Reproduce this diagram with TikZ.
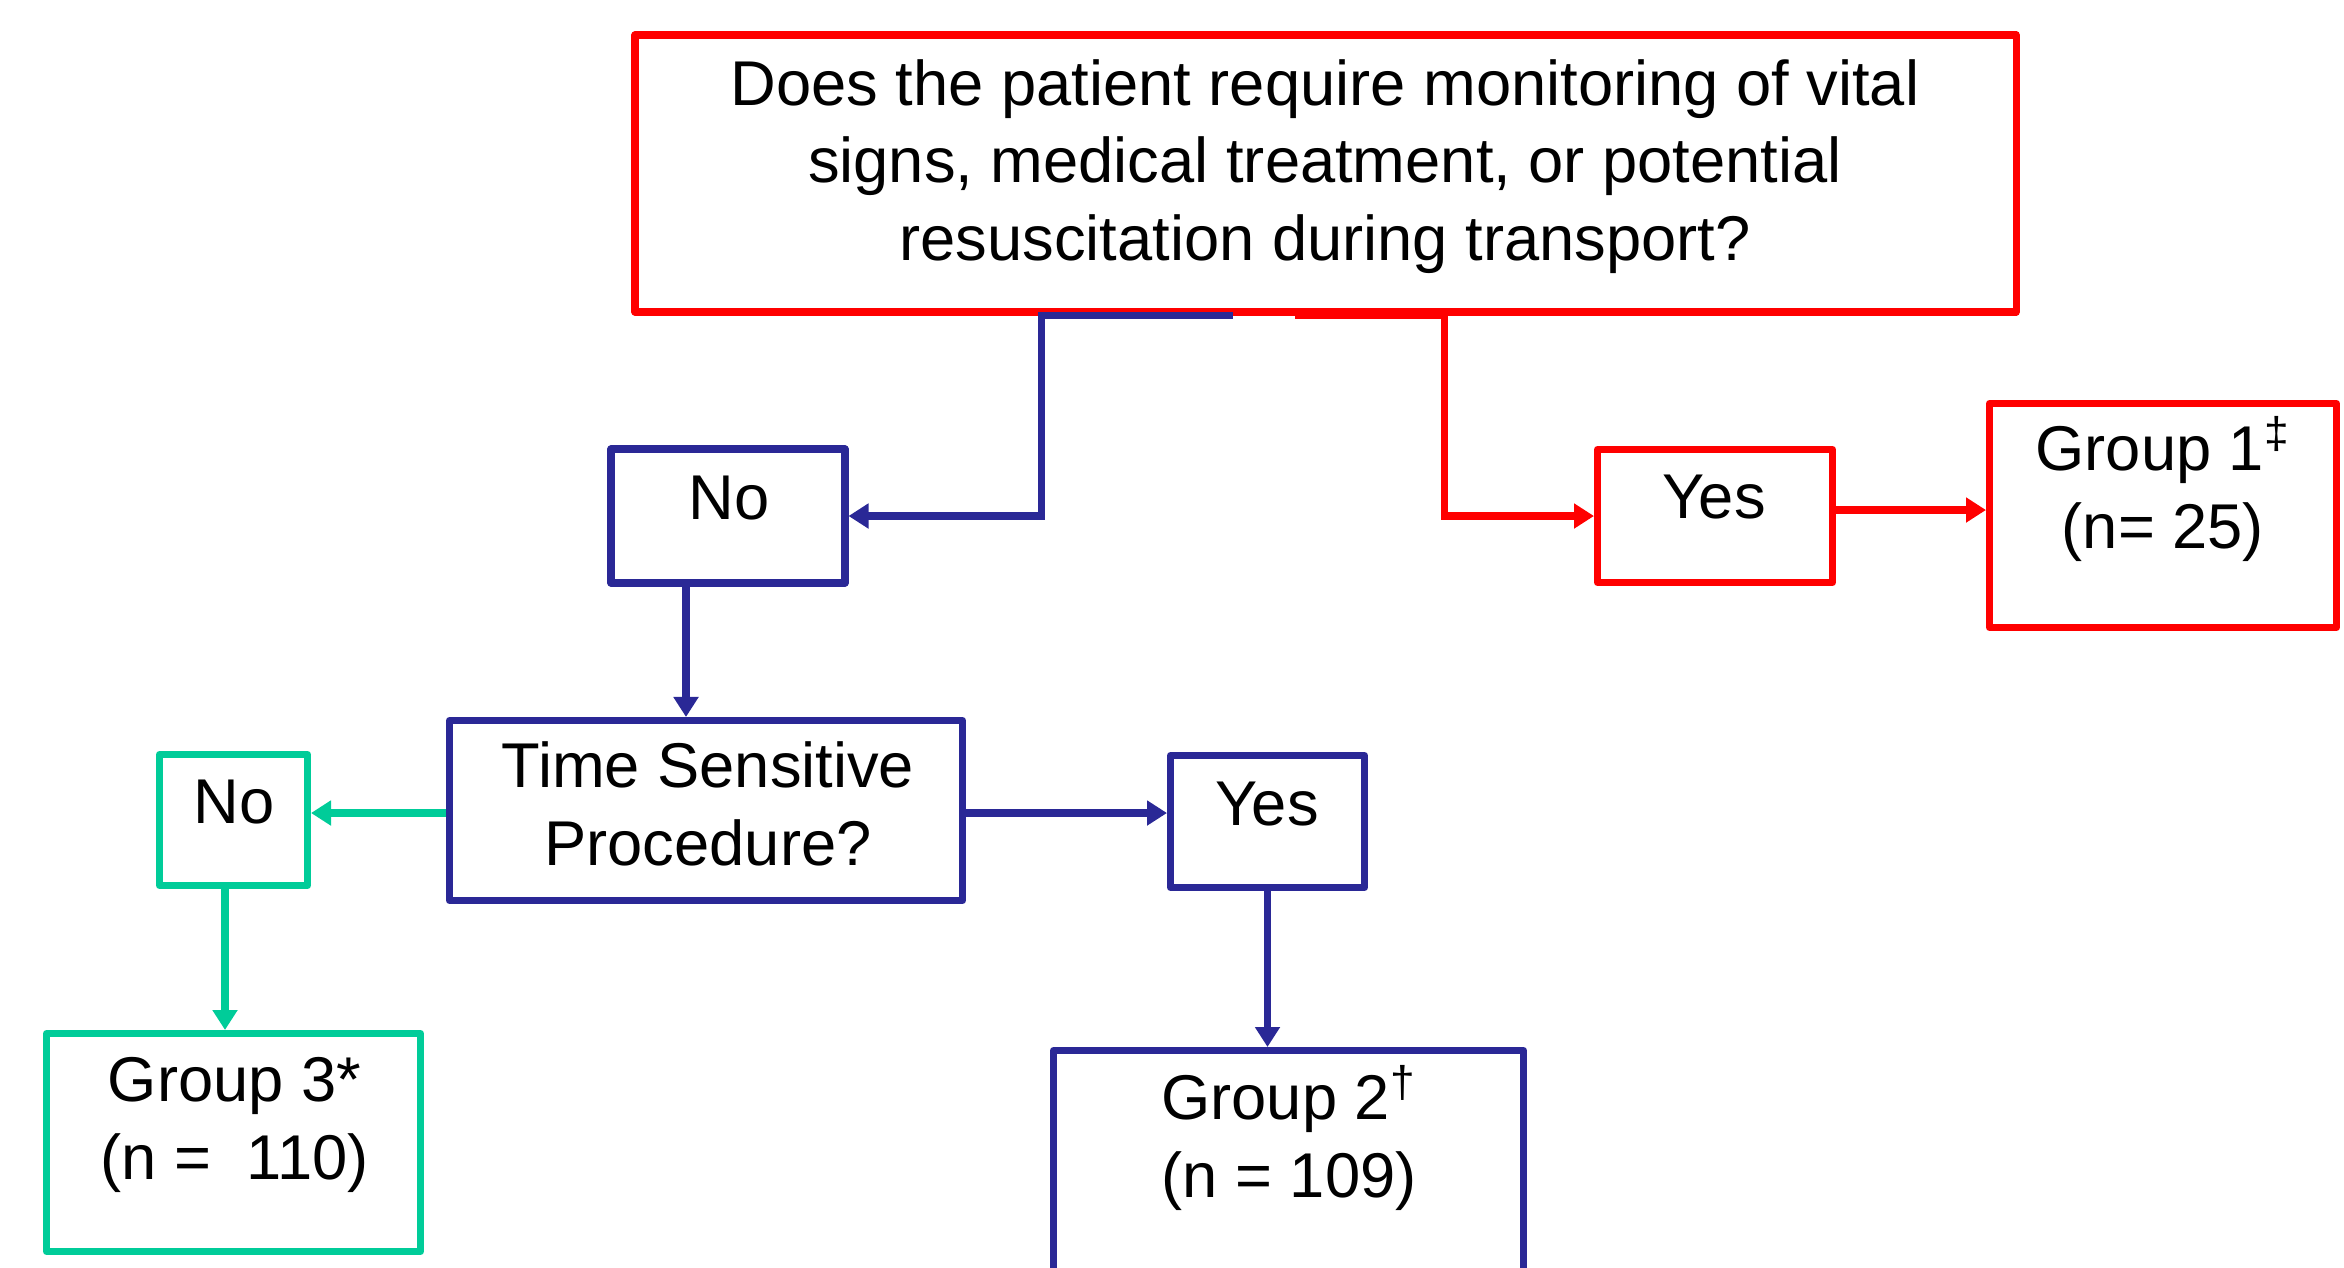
\documentclass[tikz,border=0pt]{standalone}
\usepackage{fontspec}
\setmainfont{Liberation Sans}
\usetikzlibrary{%
	arrows.meta,%
	calc%
}
\definecolor{qred}{HTML}{FF0000}
\definecolor{qblue}{HTML}{2A2896}
\definecolor{qgreen}{HTML}{00CC99}

\begin{document}
\begin{tikzpicture}[
		box/.style={draw=#1, line width=2pt, line join=round, rectangle, inner sep=0pt},
		txt/.style={align=center, inner sep=0pt, font=\fontsize{18pt}{22pt}\selectfont},
		conn/.style={draw=#1, line width=2pt, -{Triangle[length=2mm,width=2.4mm]}}
	]
		\useasboundingbox (0,0) rectangle (23.44,-12.67);
		
		% Boxes
		\node[box=qred, minimum width=13.81cm, minimum height=2.77cm] (Q) at (13.255,-1.735) {};
		\node[box=qblue, minimum width=2.34cm, minimum height=1.34cm] (no1) at (7.28,-5.16) {};
		\node[box=qred, minimum width=2.35cm, minimum height=1.33cm] (yes1) at (17.15,-5.16) {};
		\node[box=qred, minimum width=3.47cm, minimum height=2.24cm] (g1) at (21.63,-5.155) {};
		\node[box=qblue, minimum width=5.13cm, minimum height=1.80cm] (tsp) at (7.06,-8.105) {};
		\node[box=qgreen, minimum width=1.48cm, minimum height=1.31cm] (no2) at (2.335,-8.20) {};
		\node[box=qblue, minimum width=1.94cm, minimum height=1.32cm] (yes2) at (12.675,-8.215) {};
		\node[box=qgreen, minimum width=3.74cm, minimum height=2.18cm] (g3) at (2.335,-11.425) {};
		\node[box=qblue, minimum width=4.70cm, minimum height=2.40cm] (g2) at (12.885,-11.705) {};
		
		% Texts (base = last line)
		\node[txt, anchor=base] (Qt) at (13.25,-2.60) {Does the patient require monitoring of vital\\signs, medical treatment, or potential\\resuscitation during transport?};
		\node[txt, anchor=base] (no1t) at (7.29,-5.19) {No};
		\node[txt, anchor=base] (yes1t) at (17.14,-5.18) {Yes};
		\node[txt, anchor=base] (g1t) at (21.63,-5.48) {Group 1\textsuperscript{‡}\\(n= 25)};
		\node[txt, anchor=base] (tspt) at (7.08,-8.65) {Time Sensitive\\Procedure?};
		\node[txt, anchor=base] (no2t) at (2.34,-8.23) {No};
		\node[txt, anchor=base] (yes2t) at (12.67,-8.25) {Yes};
		\node[txt, anchor=base] (g3t) at (2.345,-11.79) {Group 3*\\(n =\ \ 110)};
		\node[txt, anchor=base] (g2t) at (12.89,-11.97) {Group 2\textsuperscript{†}\\(n = 109)};
		
		% Arrows
		\draw[conn=qblue] ([xshift=-9.25mm]Q.south) -- ([xshift=-28.45mm]Q.south) |- (no1);
		\draw[conn=qred] ([xshift=-3.05mm]Q.south) -- ([xshift=11.85mm]Q.south) |- (yes1);
		\draw[conn=qred] ([yshift=0.6mm]yes1.east) -- ([yshift=0.6mm]yes1.east -| g1.west);
		\draw[conn=qblue] ([xshift=-4.2mm]no1.south) -- ([xshift=-4.2mm]no1.south |- tsp.north);
		\draw[conn=qgreen] ([yshift=-0.25mm]tsp.west) -- ([yshift=-0.25mm]tsp.west -| no2.east);
		\draw[conn=qblue] ([yshift=-0.25mm]tsp.east) -- ([yshift=-0.25mm]tsp.east -| yes2.west);
		\draw[conn=qgreen] ([xshift=-0.85mm]no2.south) -- ([xshift=-0.85mm]no2.south |- g3.north);
		\draw[conn=qblue] (yes2.south) -- (yes2.south |- g2.north);
	\end{tikzpicture}
\end{document}
